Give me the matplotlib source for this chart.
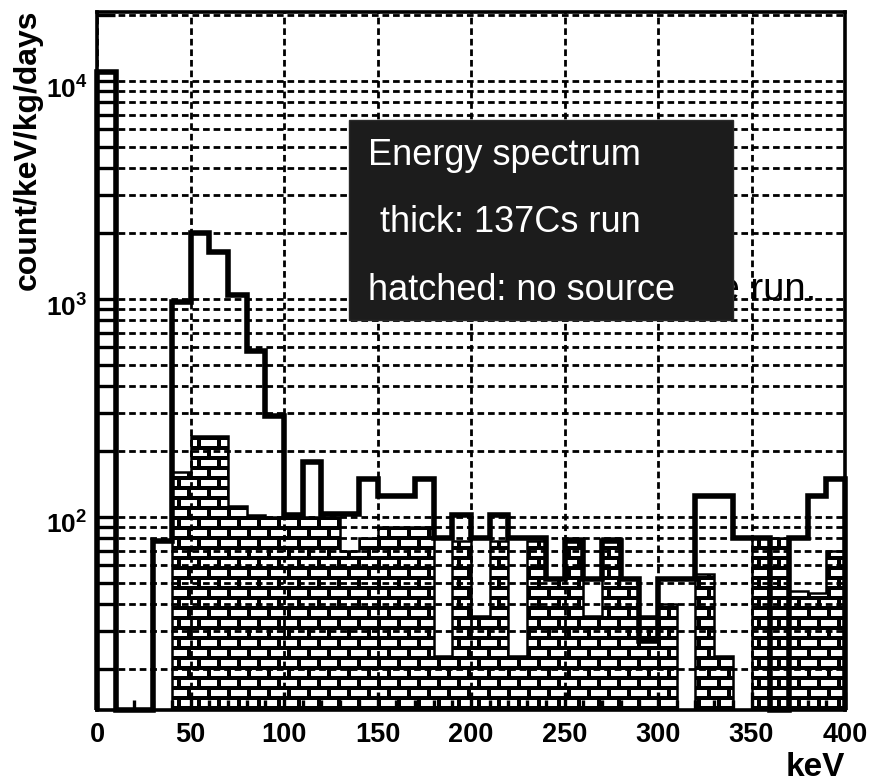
import numpy as np
import matplotlib
matplotlib.use("Agg")
import matplotlib.pyplot as plt
from matplotlib.patches import Rectangle
from matplotlib.transforms import ScaledTranslation
from matplotlib.ticker import MultipleLocator, LogLocator, NullFormatter, FixedLocator, FixedFormatter

# ---------------- data ----------------
bin_edges = np.arange(0, 410, 10)          # keV, 10 keV bins
# thick histogram: 137Cs run (count/keV/kg/days); 0 = below plotted range
cs_run = [11000, 0, 0, 78, 970, 2000, 1650, 1040, 580, 290,
          102, 178, 103, 103, 150, 125, 125, 150, 80, 102,
          80, 102, 80, 80, 52, 78, 52, 78, 52, 27,
          52, 52, 125, 125, 80, 80, 0, 80, 125, 150]
# hatched histogram: no source
no_source = [0, 0, 0, 0, 160, 235, 235, 112, 102, 100,
             100, 100, 100, 70, 80, 90, 90, 90, 23, 78,
             35, 78, 23, 78, 52, 80, 35, 80, 52, 35,
             40, 0, 55, 23, 0, 80, 80, 46, 45, 70]
x_ticks = [0, 50, 100, 150, 200, 250, 300, 350, 400]
y_ticks = [1e2, 1e3, 1e4]
y_ticklabels = [r"$\mathbf{10^{2}}$", r"$\mathbf{10^{3}}$", r"$\mathbf{10^{4}}$"]

ymin, ymax = 13.02, 20730
xmin, xmax = 0, 400

plt.rcParams["font.family"] = ["Liberation Sans", "DejaVu Sans"]
plt.rcParams["mathtext.fontset"] = "custom"
plt.rcParams["mathtext.bf"] = "Liberation Sans:bold"
plt.rcParams["mathtext.rm"] = "Liberation Sans:bold"

W_PX, H_PX = 869, 780
fig = plt.figure(figsize=(W_PX / 100, H_PX / 100), dpi=100)
ax_l, ax_r, ax_t, ax_b = 97, 845, 12, 710
ax = fig.add_axes([ax_l / W_PX, (H_PX - ax_b) / H_PX, (ax_r - ax_l) / W_PX, (ax_b - ax_t) / H_PX])

ax.set_yscale("log")
ax.set_xlim(xmin, xmax)
ax.set_ylim(ymin, ymax)
ax.set_autoscale_on(False)

# grid
dash = (0, (2.4, 1.4))
ax.yaxis.set_minor_locator(LogLocator(base=10, subs=np.arange(2, 10)))
ax.yaxis.set_minor_formatter(NullFormatter())
ax.xaxis.set_major_locator(FixedLocator(x_ticks))
ax.xaxis.set_minor_locator(MultipleLocator(10))
ax.grid(True, which="both", axis="y", linestyle=dash, linewidth=2.0, color="black", zorder=1)
ax.grid(True, which="major", axis="x", linestyle=dash, linewidth=2.0, color="black", zorder=1)
ax.set_axisbelow(True)

# ticks
ax.yaxis.set_major_locator(FixedLocator(y_ticks))
ax.yaxis.set_major_formatter(FixedFormatter(y_ticklabels))
ax.tick_params(axis="y", which="both", direction="in", length=13, width=2.4, color="black",
               labelsize=19, pad=7, right=False)
ax.tick_params(axis="x", which="major", direction="in", length=13, width=2.4, labelsize=19.5,
               pad=9, top=False)
ax.tick_params(axis="x", which="minor", direction="in", length=7, width=2.4, top=False)
for lab in ax.get_xticklabels():
    lab.set_fontweight("bold")
shift = ScaledTranslation(0, -6 / 100, fig.dpi_scale_trans)
for lab in ax.get_yticklabels():
    lab.set_transform(lab.get_transform() + shift)

for sp in ax.spines.values():
    sp.set_linewidth(2.6)
    sp.set_color("black")
    sp.set_zorder(6)

# hatched (brick) histogram: brick pattern image clipped to histogram shape
hs = np.maximum(np.array(no_source, float), 1.0)
clip_patch = ax.stairs(hs, bin_edges, baseline=1.0, fill=True, facecolor="none",
                       edgecolor="none", linewidth=0)
H = ax_b - ax_t
Wd = ax_r - ax_l
yy, xx = np.mgrid[0:H, 0:Wd]
row = yy // 10
mortar_h = (yy % 10) < 4
mortar_v = ((xx + (row % 2) * 10) % 20) < 4
img = np.zeros((H, Wd, 4))
img[mortar_h | mortar_v] = [0, 0, 0, 1]
im = ax.imshow(img, extent=[0, 1, 0, 1], transform=ax.transAxes, origin="lower",
               interpolation="nearest", aspect="auto", zorder=2)
im.set_clip_path(clip_patch)
ax.stairs(hs, bin_edges, baseline=1.0, color="black", linewidth=1.8, zorder=3)

# thick histogram
cs = np.maximum(np.array(cs_run, float), ymin)
st = ax.stairs(cs, bin_edges, baseline=ymin, color="black", linewidth=4.0, zorder=5, clip_on=False)
st.set_joinstyle("miter")

ax.set_xlim(xmin, xmax)
ax.set_ylim(ymin, ymax)

# axis titles
fig.text(28 / W_PX, 1 - 10 / H_PX, "count/keV/kg/days", rotation=90, ha="center", va="top",
         fontsize=23, fontweight="bold")
fig.text(845 / W_PX, 1 - 752 / H_PX, "keV", ha="right", va="top", fontsize=24, fontweight="bold")

# text partly hidden behind the box
fig.text(816 / W_PX, 1 - 300 / H_PX, "source run.", ha="right", va="baseline", fontsize=27.5,
         color="black", zorder=5)

# dark annotation box
box = Rectangle((349 / W_PX, (H_PX - 320) / H_PX), 384 / W_PX, 200 / H_PX,
                transform=fig.transFigure, facecolor="#1c1c1c", edgecolor="#2a2a2a",
                linewidth=1, zorder=10)
fig.add_artist(box)
fig.text(368 / W_PX, 1 - 165 / H_PX, "Energy spectrum", color="white", fontsize=26,
         va="baseline", ha="left", zorder=11)
fig.text(370 / W_PX, 1 - 232 / H_PX, " thick: 137Cs run", color="white", fontsize=26,
         va="baseline", ha="left", zorder=11)
fig.text(368 / W_PX, 1 - 300 / H_PX, "hatched: no source", color="white", fontsize=26,
         va="baseline", ha="left", zorder=11)

fig.savefig("out.png", dpi=100)
